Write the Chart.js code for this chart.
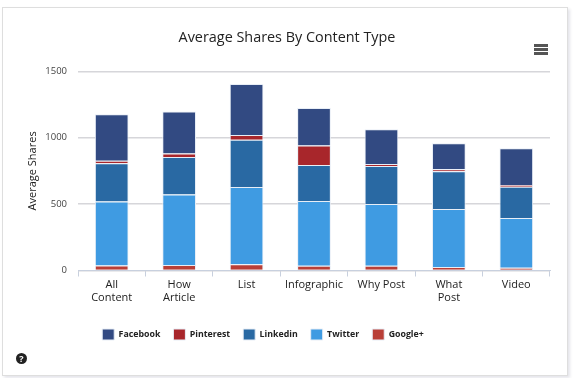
<!DOCTYPE html>
<html>
<head>
<meta charset="utf-8">
<script src="https://cdn.jsdelivr.net/npm/chart.js@4"></script>
<style>
  html, body { margin: 0; padding: 0; background: #fff; }
  #wrap { position: relative; width: 576px; height: 378px; overflow: hidden; }
  #card { position: absolute; left: 2px; top: 7px; width: 564px; height: 367px; background: #fff;
          border: 1px solid #dedede; box-shadow: 2px 2px 3px #e4e4ea; }
  canvas { position: absolute; left: 0; top: 0; }
  #menu { position: absolute; left: 534px; top: 44px; width: 14px; }
  #menu span { display: block; height: 2.5px; background: #555; margin-bottom: 1.5px; }
  #help { position: absolute; left: 16px; top: 353px; width: 11px; height: 11px; border-radius: 50%;
          background: #222; color: #fff; font: bold 9px/11px "Open Sans", sans-serif; text-align: center; }
</style>
</head>
<body>
<div id="wrap">
  <div id="card"></div>
  <canvas id="sharesChart" width="576" height="378"></canvas>
  <div id="menu"><span></span><span></span><span></span></div>
  <div id="help">?</div>
</div>
<script>
const categories = [['All', 'Content'], ['How', 'Article'], 'List', 'Infographic', 'Why Post', ['What', 'Post'], 'Video'];
const googlePlus = [38, 42, 47, 35, 35, 27, 20];
const twitter = [481, 531, 582, 488, 465, 436, 375];
const linkedin = [289, 282, 355, 272, 287, 284, 236];
const pinterest = [18, 25, 37, 146, 15, 15, 13];
const facebook = [350, 317, 383, 282, 262, 196, 277];

const font = '"Open Sans", sans-serif';

// first dataset sits at the bottom of the stack, legend is reversed to match
const datasets = [
  { label: 'Google+', data: googlePlus, backgroundColor: '#b93f37' },
  { label: 'Twitter', data: twitter, backgroundColor: '#3f9be2' },
  { label: 'Linkedin', data: linkedin, backgroundColor: '#2969a3' },
  { label: 'Pinterest', data: pinterest, backgroundColor: '#a8262b' },
  { label: 'Facebook', data: facebook, backgroundColor: '#324a82' }
].map(d => ({ ...d, borderColor: '#e8eef6', borderWidth: 1, barPercentage: 0.5, categoryPercentage: 1 }));

// the legend sits left of the chart centre in the original
const shiftLegend = {
  id: 'shiftLegend',
  afterLayout(chart) {
    chart.legend.left -= 24;
    chart.legend.right -= 24;
  }
};

new Chart(document.getElementById('sharesChart').getContext('2d'), {
  type: 'bar',
  data: { labels: categories, datasets },
  plugins: [shiftLegend],
  options: {
    responsive: false,
    animation: false,
    layout: { padding: { left: 24, right: 26, top: 29, bottom: 28 } },
    plugins: {
      tooltip: { enabled: false },
      title: {
        display: true,
        text: 'Average Shares By Content Type',
        color: '#222',
        font: { family: font, size: 14.4, weight: 'normal' },
        padding: { top: 0, bottom: 25 }
      },
      legend: {
        position: 'bottom',
        reverse: true,
        labels: {
          boxWidth: 12,
          boxHeight: 11,
          padding: 13,
          color: '#222',
          font: { family: font, size: 8.8, weight: 'bold' }
        }
      }
    },
    scales: {
      x: {
        stacked: true,
        afterFit: s => { s.height += 10; },
        border: { color: '#c8d0de' },
        grid: { drawOnChartArea: false, drawTicks: true, tickLength: 6, color: '#c8d0de' },
        ticks: { color: '#222', maxRotation: 0, autoSkip: false, padding: 1, font: { family: font, size: 11, lineHeight: 1.25 } }
      },
      y: {
        stacked: true,
        min: 0,
        max: 1500,
        afterFit: s => { s.width = 54; },
        border: { display: false },
        grid: { color: '#d6d6da', lineWidth: 1.5, drawTicks: false },
        ticks: { stepSize: 500, color: '#444', padding: 11, font: { family: font, size: 9.5 }, callback: v => String(v) },
        title: { display: true, text: 'Average Shares', color: '#222', padding: 2, font: { family: font, size: 11 } }
      }
    }
  }
});
</script>
</body>
</html>
